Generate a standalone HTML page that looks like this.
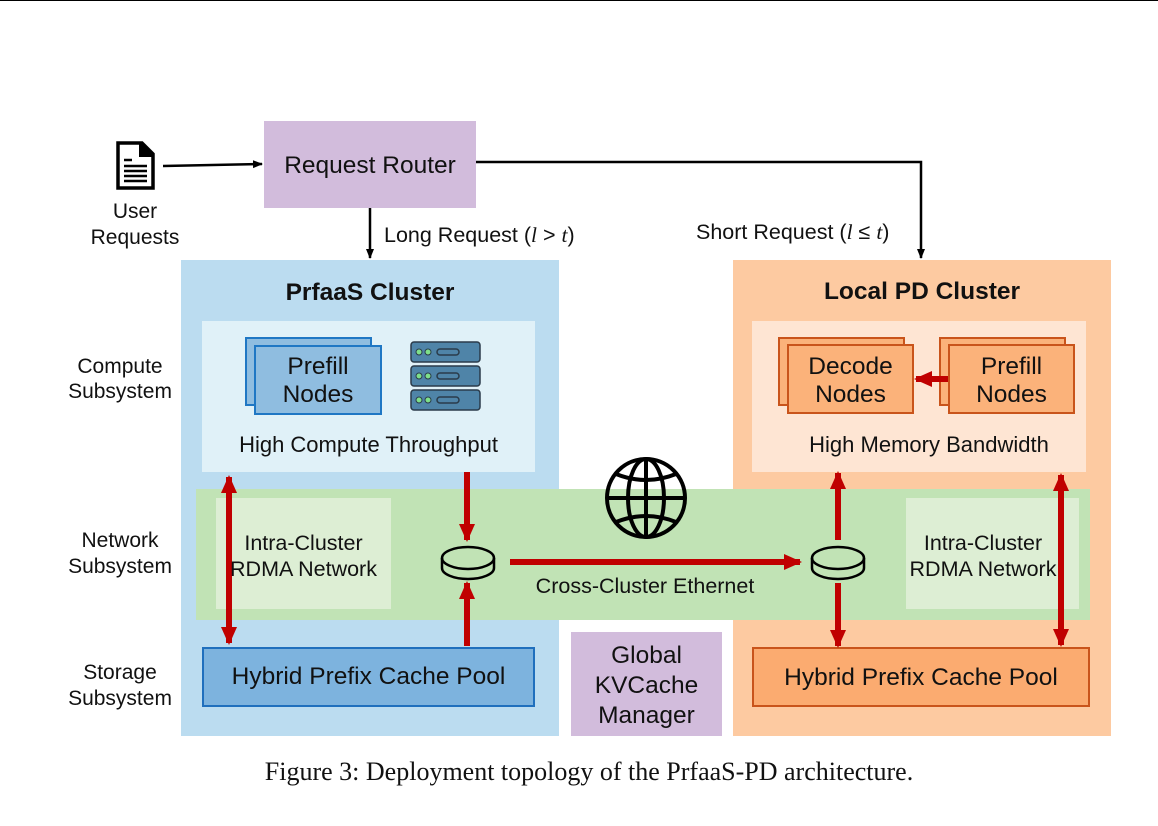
<!DOCTYPE html>
<html><head><meta charset="utf-8"><style>
body{margin:0;width:1158px;height:826px;background:#fff;position:relative;overflow:hidden;font-family:"Liberation Sans",sans-serif;color:#111}
.a{position:absolute;box-sizing:border-box}
.t{position:absolute;text-align:center;line-height:26px;white-space:nowrap}
</style></head><body>
<div class="a" style="left:0;top:0;width:1158px;height:1px;background:#000"></div>
<div class="a" style="left:181px;top:260px;width:378px;height:476px;background:#bbdcf0"></div>
<div class="a" style="left:733px;top:260px;width:378px;height:476px;background:#fdcaa1"></div>
<div class="a" style="left:202px;top:321px;width:333px;height:151px;background:#e0f1f8"></div>
<div class="a" style="left:752px;top:321px;width:334px;height:151px;background:#fee5d3"></div>
<div class="a" style="left:196px;top:489px;width:894px;height:131px;background:#c1e3b5"></div>
<div class="a" style="left:216px;top:498px;width:175px;height:111px;background:#ddeed4"></div>
<div class="a" style="left:906px;top:498px;width:173px;height:111px;background:#ddeed4"></div>
<div class="a" style="left:264px;top:121px;width:212px;height:87px;background:#d2bcdc"></div>
<div class="a" style="left:571px;top:632px;width:151px;height:104px;background:#d2bcdc"></div>
<div class="a" style="left:245px;top:337px;width:127px;height:69px;background:#8fbde0;border:2px solid #1f77c4"></div>
<div class="a" style="left:254px;top:345px;width:128px;height:70px;background:#8fbde0;border:2px solid #1f77c4"></div>
<div class="a" style="left:778px;top:337px;width:127px;height:69px;background:#fbb27a;border:2px solid #c9541b"></div>
<div class="a" style="left:787px;top:344px;width:127px;height:70px;background:#fbb27a;border:2px solid #c9541b"></div>
<div class="a" style="left:939px;top:337px;width:127px;height:69px;background:#fbb27a;border:2px solid #c9541b"></div>
<div class="a" style="left:948px;top:344px;width:127px;height:70px;background:#fbb27a;border:2px solid #c9541b"></div>
<div class="a" style="left:202px;top:647px;width:333px;height:60px;background:#7db3de;border:2px solid #1f6fbd"></div>
<div class="a" style="left:752px;top:647px;width:338px;height:60px;background:#fbab70;border:2px solid #c9541b"></div>

<svg class="a" style="left:0;top:0" width="1158" height="826">
<defs>
<marker id="k" markerWidth="10" markerHeight="10" refX="9" refY="5" orient="auto" markerUnits="userSpaceOnUse"><path d="M0,1 L10,5 L0,9z" fill="#000"/></marker>
<marker id="r" markerWidth="18" markerHeight="18" refX="16" refY="9" orient="auto-start-reverse" markerUnits="userSpaceOnUse"><path d="M0,1 L18,9 L0,17z" fill="#c00000"/></marker>
</defs>
<path d="M118,143 H142 L153,154 V188 H118z" fill="none" stroke="#000" stroke-width="3.5"/>
<path d="M140,143 V156 H153" fill="#000" stroke="#000" stroke-width="2"/>
<g stroke="#000" stroke-width="2.5"><line x1="124" y1="160" x2="132" y2="160"/><line x1="124" y1="166" x2="147" y2="166"/><line x1="124" y1="171" x2="147" y2="171"/><line x1="124" y1="176" x2="147" y2="176"/><line x1="124" y1="181" x2="147" y2="181"/></g>
<line x1="163" y1="166" x2="262" y2="164" stroke="#000" stroke-width="2.5" marker-end="url(#k)"/>
<line x1="370" y1="208" x2="370" y2="258" stroke="#000" stroke-width="2.5" marker-end="url(#k)"/>
<polyline points="476,162 921,162 921,258" fill="none" stroke="#000" stroke-width="2.5" marker-end="url(#k)"/>
<g stroke="#2a3b4a" stroke-width="1.5">
<rect x="411" y="342" width="69" height="20" rx="3" fill="#4f84a8"/>
<rect x="411" y="366" width="69" height="20" rx="3" fill="#4f84a8"/>
<rect x="411" y="390" width="69" height="20" rx="3" fill="#4f84a8"/>
</g>
<g fill="#7ee08a" stroke="#2a3b4a"><circle cx="419" cy="352" r="3"/><circle cx="428" cy="352" r="3"/><circle cx="419" cy="376" r="3"/><circle cx="428" cy="376" r="3"/><circle cx="419" cy="400" r="3"/><circle cx="428" cy="400" r="3"/></g>
<g fill="none" stroke="#2a3b4a" stroke-width="1.5"><rect x="437" y="349" width="22" height="6" rx="3"/><rect x="437" y="373" width="22" height="6" rx="3"/><rect x="437" y="397" width="22" height="6" rx="3"/></g>
<g fill="none" stroke="#000" stroke-width="4">
<circle cx="646" cy="498" r="39"/>
<ellipse cx="646" cy="498" rx="18" ry="39"/>
<line x1="646" y1="459" x2="646" y2="537"/>
<line x1="607" y1="498" x2="685" y2="498"/>
<path d="M616,474 Q646,486 676,474"/><path d="M616,522 Q646,510 676,522"/>
</g>
<g fill="none" stroke="#000" stroke-width="2.5">
<ellipse cx="468" cy="558" rx="26" ry="11"/><path d="M442,558 V568 A26,11 0 0 0 494,568 V558"/>
<ellipse cx="838" cy="558" rx="26" ry="11"/><path d="M812,558 V568 A26,11 0 0 0 864,568 V558"/>
</g>
<g fill="none" stroke="#c00000" stroke-width="6">
<line x1="229" y1="477" x2="229" y2="643" marker-start="url(#r)" marker-end="url(#r)"/>
<line x1="467" y1="472" x2="467" y2="540" marker-end="url(#r)"/>
<line x1="467" y1="646" x2="467" y2="583" marker-end="url(#r)"/>
<line x1="510" y1="562" x2="800" y2="562" marker-end="url(#r)"/>
<line x1="838" y1="540" x2="838" y2="473" marker-end="url(#r)"/>
<line x1="838" y1="583" x2="838" y2="646" marker-end="url(#r)"/>
<line x1="1061" y1="475" x2="1061" y2="645" marker-start="url(#r)" marker-end="url(#r)"/>
<line x1="948" y1="379" x2="916" y2="379" marker-end="url(#r)"/>
</g>
</svg>

<div class="t" style="left:70px;top:199px;width:130px;font-size:21px">User<br>Requests</div>
<div class="t" style="left:264px;top:153px;width:212px;font-size:24.5px">Request Router</div>
<div class="t" style="left:384px;top:222px;font-size:21.5px;text-align:left">Long Request (<i style="font-family:'Liberation Serif',serif">l</i> &gt; <i style="font-family:'Liberation Serif',serif">t</i>)</div>
<div class="t" style="left:696px;top:219px;font-size:21.5px;text-align:left">Short Request (<i style="font-family:'Liberation Serif',serif">l</i> ≤ <i style="font-family:'Liberation Serif',serif">t</i>)</div>
<div class="t" style="left:181px;top:280px;width:378px;font-size:24.5px;font-weight:bold">PrfaaS Cluster</div>
<div class="t" style="left:733px;top:279px;width:406px;font-size:24.5px;font-weight:bold;margin-left:-14px">Local PD Cluster</div>
<div class="t" style="left:254px;top:353px;width:128px;font-size:24.5px;line-height:28px">Prefill<br>Nodes</div>
<div class="t" style="left:787px;top:353px;width:127px;font-size:24.5px;line-height:28px">Decode<br>Nodes</div>
<div class="t" style="left:948px;top:353px;width:127px;font-size:24.5px;line-height:28px">Prefill<br>Nodes</div>
<div class="t" style="left:202px;top:432px;width:333px;font-size:22px">High Compute Throughput</div>
<div class="t" style="left:752px;top:432px;width:354px;font-size:22px">High Memory Bandwidth</div>
<div class="t" style="left:216px;top:530px;width:175px;font-size:21.5px">Intra-Cluster<br>RDMA Network</div>
<div class="t" style="left:900px;top:530px;width:166px;font-size:21.5px">Intra-Cluster<br>RDMA Network</div>
<div class="t" style="left:520px;top:573px;width:250px;font-size:21.5px">Cross-Cluster Ethernet</div>
<div class="t" style="left:202px;top:664px;width:333px;font-size:24.5px">Hybrid Prefix Cache Pool</div>
<div class="t" style="left:752px;top:665px;width:338px;font-size:24.5px">Hybrid Prefix Cache Pool</div>
<div class="t" style="left:571px;top:641px;width:151px;font-size:24.5px;line-height:30px">Global<br>KVCache<br>Manager</div>
<div class="t" style="left:55px;top:354px;width:130px;font-size:21px;line-height:25px">Compute<br>Subsystem</div>
<div class="t" style="left:55px;top:528px;width:130px;font-size:21px;line-height:26px">Network<br>Subsystem</div>
<div class="t" style="left:55px;top:660px;width:130px;font-size:21px;line-height:26px">Storage<br>Subsystem</div>
<div class="t" style="left:0;top:759px;width:1178px;font-size:26px;font-family:'Liberation Serif',serif">Figure 3: Deployment topology of the PrfaaS-PD architecture.</div>
</body></html>
